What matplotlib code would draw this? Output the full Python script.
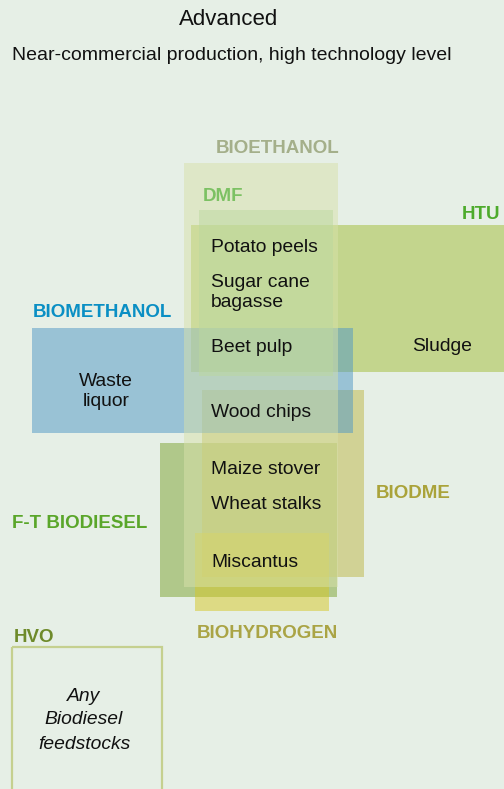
import matplotlib
matplotlib.use("Agg")
import matplotlib.pyplot as plt
from matplotlib.patches import Rectangle

plt.rcParams['font.family'] = ['Liberation Sans', 'DejaVu Sans']

BG = '#e6efe6'

# ---- data -------------------------------------------------------------
title = "Advanced"
subtitle = "Near-commercial production, high technology level"

# pathway boxes (drawing order), extents in diagram units (x left/right, y top/bottom)
groups = ["F-T BIODIESEL", "BIODME", "HTU", "BIOMETHANOL", "BIOHYDROGEN", "BIOETHANOL", "DMF"]
x_left = [160, 202, 191, 32, 195, 184, 199]
x_right = [337, 364, 504, 353, 329, 338, 333]
y_top = [443, 390, 225, 328, 533, 163, 210]
y_bottom = [597, 577, 372, 433, 611, 587, 376]
fills = ['#7ca330', '#beb746', '#a2bd36', '#4e97c6', '#d6c724', '#d8e1aa', '#bbd89e']

# pathway labels
label_text = ["BIOETHANOL", "DMF", "HTU", "BIOMETHANOL", "F-T BIODIESEL", "BIODME", "BIOHYDROGEN", "HVO"]
label_x = [216, 203, 500, 33, 12, 376, 197, 14]
label_y = [152.7, 200.7, 219, 317.3, 528, 497.7, 638, 642]
label_ha = ['left', 'left', 'right', 'left', 'left', 'left', 'left', 'left']
label_col = ['#a4af8a', '#7cc163', '#4dab2c', '#0a8fc4', '#5aa62a', '#aaa33a', '#aaa445', '#6e8a2a']

# feedstocks
feed_text = ["Potato peels", "Sugar cane", "bagasse", "Beet pulp", "Sludge", "Waste", "liquor",
             "Wood chips", "Maize stover", "Wheat stalks", "Miscantus"]
feed_x = [211, 211, 211, 211, 441.7, 106, 106, 211, 211, 211, 211]
feed_y = [252.3, 287.3, 307, 351.7, 350.7, 385.7, 405.5, 417.3, 474, 509.3, 567]
feed_ha = ['left', 'left', 'left', 'left', 'center', 'center', 'center', 'left', 'left', 'left', 'left']

# HVO box
hvo_box = (12, 647, 162, 795)
hvo_text = ["Any", "Biodiesel", "feedstocks"]
hvo_y = [700.7, 724, 749.3]
hvo_x = 84

# ---- figure -----------------------------------------------------------
fig = plt.figure(figsize=(5.04, 7.89), dpi=100, facecolor=BG)
ax = fig.add_axes([0, 0, 1, 1])
ax.set_facecolor(BG)
ax.set_xlim(0, 504)
ax.set_ylim(789, 0)
ax.axis('off')

for g, x0, x1, y0, y1, c in zip(groups, x_left, x_right, y_top, y_bottom, fills):
    ax.add_patch(Rectangle((x0, y0), x1 - x0, y1 - y0, facecolor=c, alpha=0.5,
                           edgecolor='none', zorder=2))

hx0, hy0, hx1, hy1 = hvo_box
ax.add_patch(Rectangle((hx0, hy0), hx1 - hx0, hy1 - hy0, facecolor='none',
                       edgecolor='#c5d08f', linewidth=1.6, zorder=2))

ax.text(229, 25.3, title, ha='center', va='baseline', fontsize=16, color='#111111', zorder=5)
ax.text(12, 59.5, subtitle, ha='left', va='baseline', fontsize=14, color='#111111', zorder=5)

for t, x, y, ha, c in zip(label_text, label_x, label_y, label_ha, label_col):
    ax.text(x, y, t, ha=ha, va='baseline', fontsize=13.5, fontweight='bold', color=c, zorder=5)

for t, x, y, ha in zip(feed_text, feed_x, feed_y, feed_ha):
    ax.text(x, y, t, ha=ha, va='baseline', fontsize=13.9, color='#111111', zorder=5)

for t, y in zip(hvo_text, hvo_y):
    ax.text(hvo_x, y, t, ha='center', va='baseline', fontsize=13.9, style='italic',
            color='#111111', zorder=5)

fig.savefig('out.png', dpi=100, facecolor=BG)
